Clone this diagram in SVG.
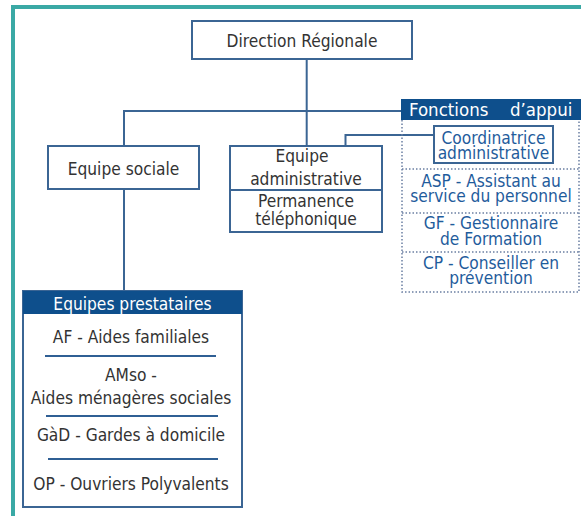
<svg xmlns="http://www.w3.org/2000/svg" width="581" height="516" viewBox="0 0 581 516">
<style>
text{font-family:"DejaVu Sans Condensed","DejaVu Sans",sans-serif;font-stretch:condensed;font-size:17.2px;fill:#333;text-anchor:middle}
.box{fill:#fff;stroke:#3b6594;stroke-width:2}
.ln{fill:none;stroke:#3b6594;stroke-width:2}
.hdr{fill:#0e4f8c}
.ht{fill:#fff}
.bt{fill:#1f5c9c}
.dot{fill:none;stroke:#6b7fa3;stroke-width:1.5;stroke-dasharray:1.5 2}
.sep{stroke:#2f5f94;stroke-width:2}
</style>
<rect width="581" height="516" fill="#fff"/>
<g id="frame">
<line x1="11" y1="7" x2="581" y2="7" stroke="#3aa9a5" stroke-width="4"/>
<line x1="13" y1="5" x2="13" y2="516" stroke="#3aa9a5" stroke-width="4"/>
</g>
<g id="connectors">
<polyline class="ln" points="306.7,59 306.7,146"/>
<polyline class="ln" points="124,146 124,111 401,111"/>
<polyline class="ln" points="345.5,146 345.5,135 434,135"/>
<polyline class="ln" points="124,189 124,291"/>
</g>
<g id="direction">
<rect class="box" x="192" y="21" width="220" height="38"/>
<text x="302" y="46.5">Direction Régionale</text>
</g>
<g id="equipe-sociale">
<rect class="box" x="48" y="146" width="151" height="43"/>
<text x="123.5" y="174.5">Equipe sociale</text>
</g>
<g id="equipe-admin">
<rect class="box" x="230" y="146" width="152" height="86"/>
<line class="ln" x1="230" y1="190" x2="382" y2="190"/>
<text x="302" y="162">Equipe</text>
<text x="306" y="185">administrative</text>
<text x="306" y="206.5">Permanence</text>
<text x="306" y="224.5">téléphonique</text>
</g>
<g id="fonctions-appui">
<rect class="hdr" x="401" y="99" width="180" height="21"/>
<text class="ht" x="409" y="116" style="font-size:18.5px;text-anchor:start">Fonctions</text>
<text class="ht" x="510" y="116" style="font-size:18.5px;text-anchor:start">d’appui</text>
<polyline class="dot" points="402,120 402,292 579,292 579,120"/>
<line class="dot" x1="402" y1="169" x2="579" y2="169"/>
<line class="dot" x1="402" y1="213" x2="579" y2="213"/>
<line class="dot" x1="402" y1="252" x2="579" y2="252"/>
</g>
<g id="coordinatrice">
<rect class="box" x="434" y="126" width="119" height="37"/>
<text class="bt" x="493.5" y="144">Coordinatrice</text>
<text class="bt" x="493.5" y="159">administrative</text>
</g>
<g id="asp">
<text class="bt" x="491" y="187">ASP - Assistant au</text>
<text class="bt" x="491" y="202">service du personnel</text>
</g>
<g id="gf">
<text class="bt" x="491" y="228.5">GF - Gestionnaire</text>
<text class="bt" x="491" y="245">de Formation</text>
</g>
<g id="cp">
<text class="bt" x="491" y="268.5">CP - Conseiller en</text>
<text class="bt" x="491" y="284">prévention</text>
</g>
<g id="equipes-prestataires">
<rect class="box" x="23" y="291" width="219" height="216"/>
<rect class="hdr" x="23" y="291" width="219" height="23"/>
<text class="ht" x="132.5" y="309.5">Equipes prestataires</text>
<text x="131" y="343">AF - Aides familiales</text>
<line class="sep" x1="45" y1="356" x2="216" y2="356"/>
<text x="131" y="381">AMso -</text>
<text x="131" y="404">Aides ménagères sociales</text>
<line class="sep" x1="46" y1="416" x2="218" y2="416"/>
<text x="131" y="441">GàD - Gardes à domicile</text>
<line class="sep" x1="48" y1="459" x2="218" y2="459"/>
<text x="131" y="489.5">OP - Ouvriers Polyvalents</text>
</g>
</svg>
